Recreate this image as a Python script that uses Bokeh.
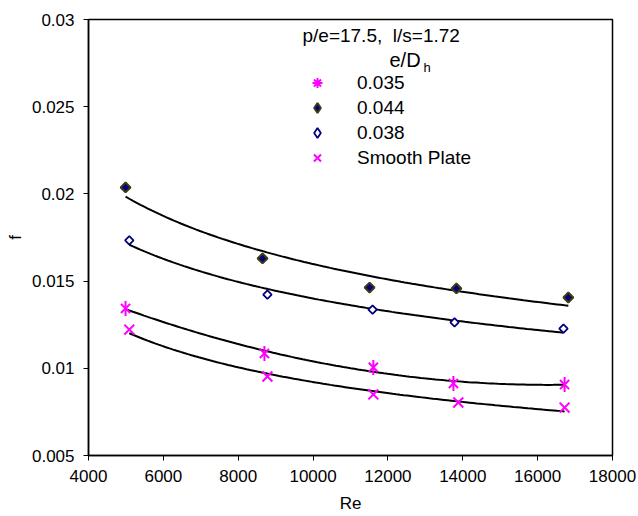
import numpy as np
from bokeh.plotting import figure
from bokeh.models import Legend, LegendItem, Label, FixedTicker
from bokeh.embed import file_html
from bokeh.resources import INLINE

# ---- data ----
re_035 = [4990, 8700, 11610, 13750, 16720]
f_035 = [0.01343, 0.01085, 0.01005, 0.00913, 0.00907]

re_044 = [4990, 8650, 11510, 13830, 16820]
f_044 = [0.02037, 0.01630, 0.01463, 0.01458, 0.01406]

re_038 = [5090, 8780, 11590, 13780, 16690]
f_038 = [0.01733, 0.01423, 0.01337, 0.01263, 0.01228]

re_smooth = [5090, 8780, 11610, 13880, 16720]
f_smooth = [0.01222, 0.00953, 0.00850, 0.00804, 0.00775]

series_labels = ["0.035", "0.044", "0.038", "Smooth Plate"]
x_ticks = [4000, 6000, 8000, 10000, 12000, 14000, 16000, 18000]
y_ticks = [0.005, 0.01, 0.015, 0.02, 0.025, 0.03]
y_tick_labels = ["0.005", "0.01", "0.015", "0.02", "0.025", "0.03"]
note_text = "p/e=17.5,\u00a0 l/s=1.72"
legend_title_main = "e/D"
legend_title_sub = "h"

FONT = "Liberation Sans"
MAG = "#ff00ff"
NAVY = "#000080"
OLIVE = "#3d3d14"

p = figure(width=638, height=516, x_range=(4000, 18000), y_range=(0.005, 0.03),
           output_backend="svg", toolbar_location=None,
           min_border_left=88, min_border_right=26, min_border_top=19, min_border_bottom=61)
p.xgrid.visible = False
p.ygrid.visible = False
p.outline_line_color = "black"
p.outline_line_width = 1.5
p.background_fill_color = "white"
p.border_fill_color = "white"

for ax in (p.xaxis[0], p.yaxis[0]):
    ax.axis_line_color = "black"
    ax.axis_line_width = 1.5
    ax.major_tick_in = 0
    ax.major_tick_out = 5
    ax.major_tick_line_color = "black"
    ax.minor_tick_line_color = None
    ax.major_label_text_font = FONT
    ax.major_label_text_font_size = "17px"
    ax.major_label_text_color = "black"
    ax.axis_label_text_font = FONT
    ax.axis_label_text_font_size = "17px"
    ax.axis_label_text_font_style = "normal"
    ax.axis_label_text_color = "black"

p.xaxis.ticker = FixedTicker(ticks=x_ticks)
p.yaxis.ticker = FixedTicker(ticks=y_ticks)
p.yaxis.major_label_overrides = {t: l for t, l in zip(y_ticks, y_tick_labels)}
p.xaxis.axis_label = "Re"
p.yaxis.axis_label = "f"
p.xaxis.major_label_standoff = 9
p.yaxis.major_label_standoff = 9
p.xaxis.axis_label_standoff = 9
p.yaxis.axis_label_standoff = 4


def power_fit(x, y):
    x = np.asarray(x, float); y = np.asarray(y, float)
    b, a = np.polyfit(np.log(x), np.log(y), 1)
    xs = np.linspace(x.min(), x.max(), 120)
    return xs, np.exp(a) * xs ** b


def poly_fit(x, y, deg=2):
    x = np.asarray(x, float); y = np.asarray(y, float)
    c = np.polyfit(x, y, deg)
    xs = np.linspace(x.min(), x.max(), 120)
    return xs, np.polyval(c, xs)


for xs, ys in (power_fit(re_044, f_044), power_fit(re_038, f_038),
               poly_fit(re_035, f_035), power_fit(re_smooth, f_smooth)):
    p.line(xs, ys, line_color="black", line_width=2)

# data markers
p.scatter(re_035, f_035, marker="x", size=13, line_color=MAG, line_width=2)
p.scatter(re_035, f_035, marker="dash", size=15, angle=np.pi / 2, line_color=MAG, line_width=2)
p.scatter(re_044, f_044, marker="square", size=7, angle=np.pi / 4,
          fill_color=NAVY, line_color=OLIVE, line_width=2)
p.scatter(re_038, f_038, marker="square", size=6, angle=np.pi / 4,
          fill_color="white", line_color=NAVY, line_width=1.8)
p.scatter(re_smooth, f_smooth, marker="x", size=14, line_color=MAG, line_width=2)

# legend samples: style-only renderers (a single NaN point, never drawn in the plot)
nan_pt = np.array([np.nan])
l1 = p.scatter(nan_pt, nan_pt, marker="asterisk", line_color=MAG, line_width=2)
l2 = p.scatter(nan_pt, nan_pt, marker="diamond", fill_color=NAVY, line_color=OLIVE, line_width=2)
l3 = p.scatter(nan_pt, nan_pt, marker="diamond", fill_color="white", line_color=NAVY, line_width=1.8)
l4 = p.scatter(nan_pt, nan_pt, marker="x", line_color=MAG, line_width=2)

legend = Legend(items=[LegendItem(label=lab, renderers=[r]) for lab, r in
                       zip(series_labels, [l1, l2, l3, l4])],
                location=(214, 285), padding=0, margin=0, spacing=0,
                glyph_width=30, glyph_height=25, label_height=25, label_standoff=25,
                label_text_font=FONT, label_text_font_size="19px",
                label_text_color="black",
                border_line_color=None, background_fill_alpha=0)
p.add_layout(legend, "center")

p.add_layout(Label(x=9717, y=0.02908, text=note_text, text_font=FONT,
                   text_font_size="19px", text_baseline="middle", text_align="left",
                   text_color="black"))
p.add_layout(Label(x=12042, y=0.02765, text=legend_title_main, text_font=FONT,
                   text_font_size="20px", text_baseline="middle", text_align="left",
                   text_color="black"))
p.add_layout(Label(x=12950, y=0.02725, text=legend_title_sub, text_font=FONT,
                   text_font_size="13px", text_baseline="middle", text_align="left",
                   text_color="black"))

open("out.html", "w").write(file_html(p, INLINE))
